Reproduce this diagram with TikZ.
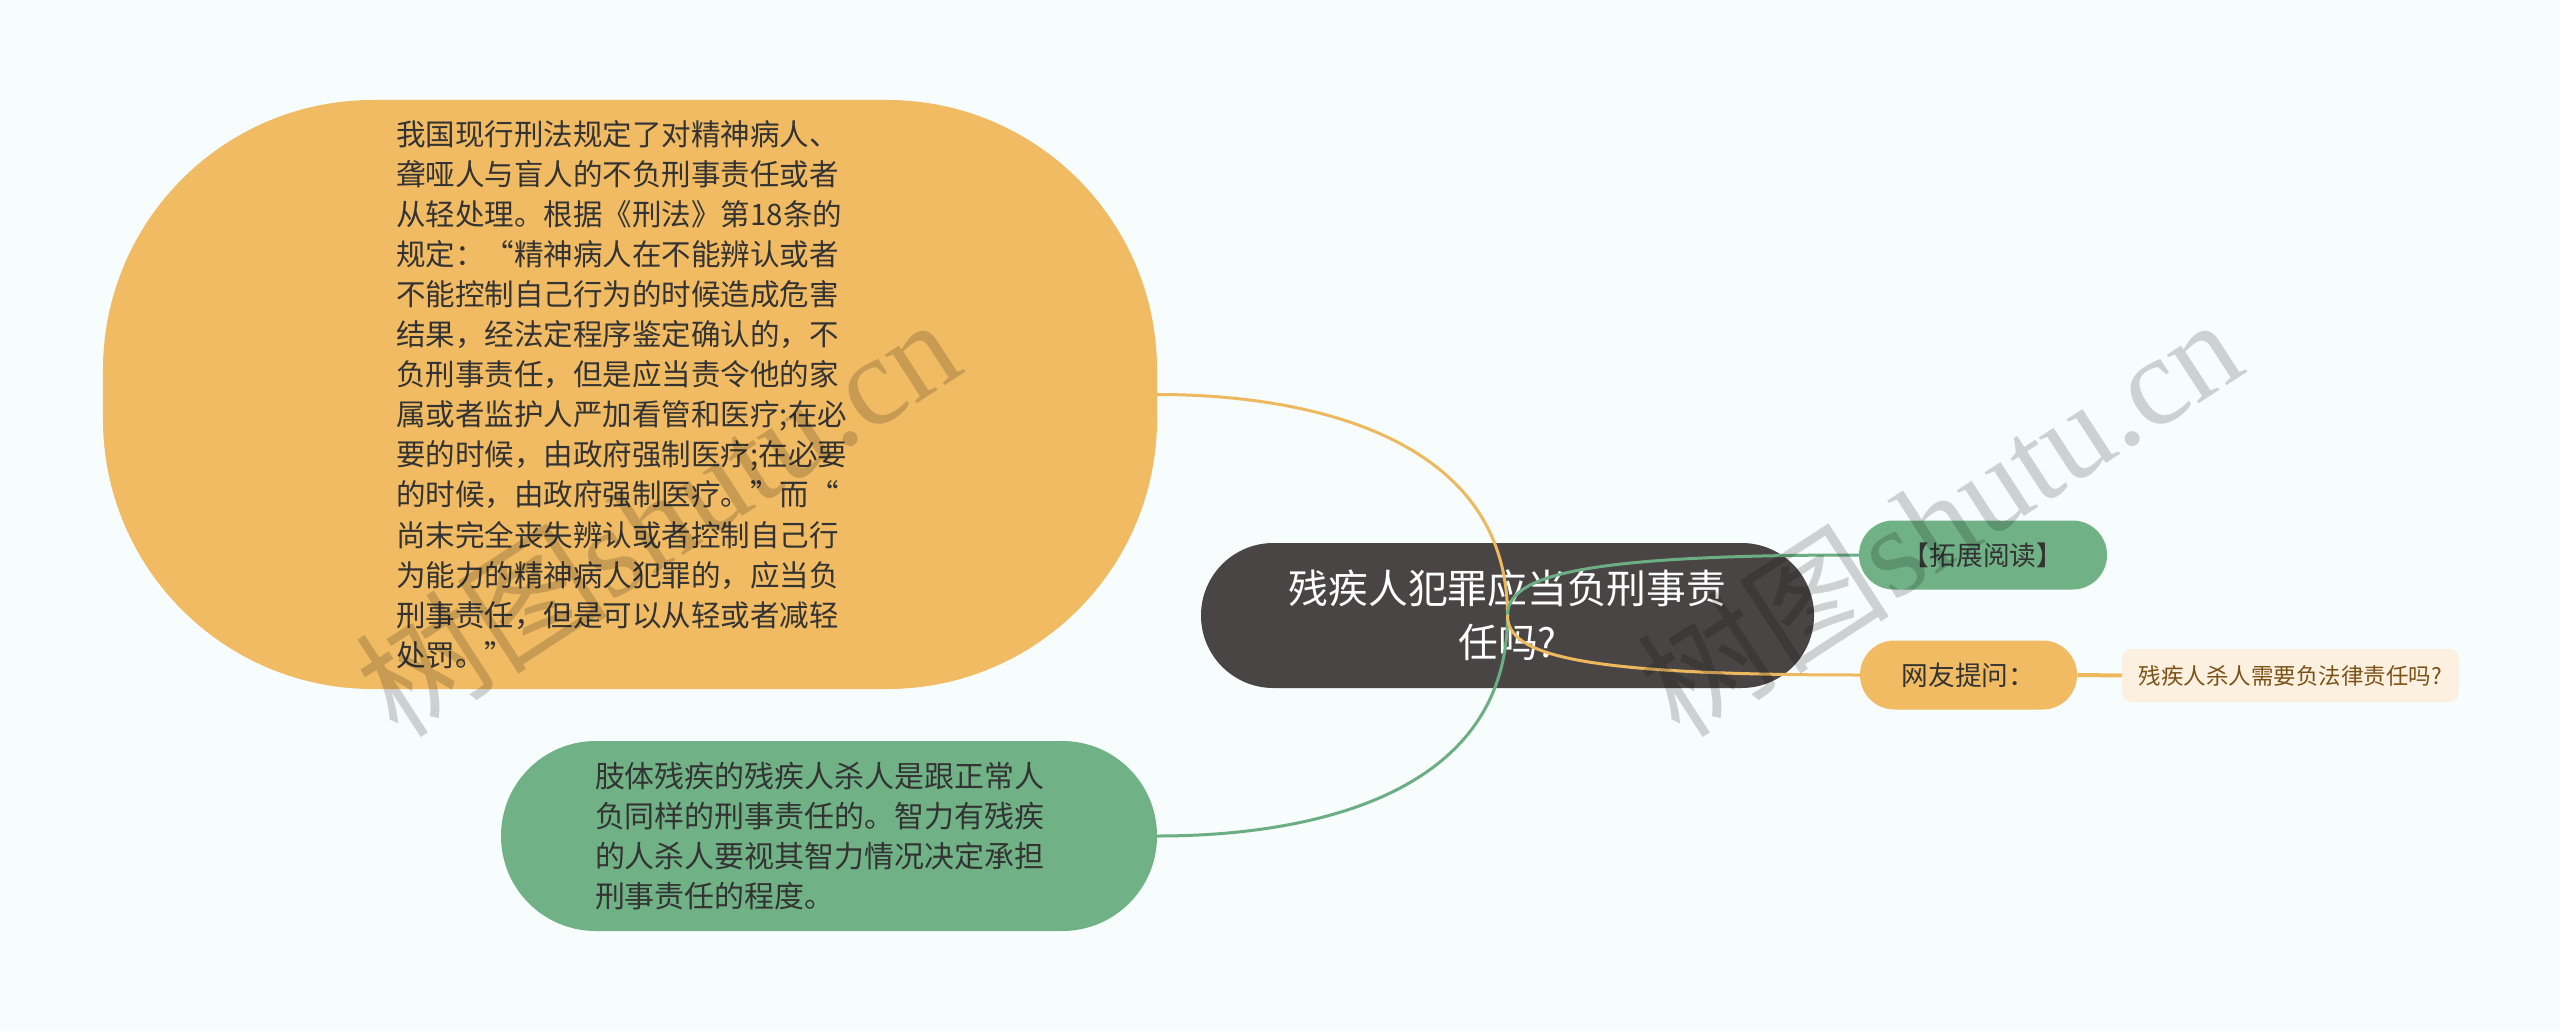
\documentclass[tikz,border=0pt]{standalone}
\usepackage{fontspec}
\newfontfamily\cjk{Noto Sans CJK SC}
\newfontfamily\wmserif{Liberation Serif}
\definecolor{bgc}{HTML}{F7FCFC}
\definecolor{myyellow}{HTML}{F0BB63}
\definecolor{mygreen}{HTML}{70B186}
\definecolor{mydark}{HTML}{4A4545}
\definecolor{mytext}{HTML}{333333}
\definecolor{lightbox}{HTML}{FCF0E0}
\definecolor{browntext}{HTML}{7A5216}
\definecolor{yline}{HTML}{EEB95E}
\definecolor{gline}{HTML}{6CAE84}
\begin{document}
\begin{tikzpicture}[x=0.25mm,y=-0.25mm,
  base/.style={draw=none, inner sep=0pt, text=mytext},
  bigyellow/.style={base, fill=myyellow, minimum width=263.5mm, minimum height=147.25mm, rounded corners=67.5mm,
     text width=117mm, align=left, font=\cjk\fontsize{21}{28.5}\selectfont},
  biggreen/.style={base, fill=mygreen, minimum width=164mm, minimum height=47.5mm, rounded corners=23.7mm,
     text width=117mm, align=left, font=\cjk\fontsize{21.3}{28.5}\selectfont},
  rootbox/.style={base, fill=mydark, text=white, minimum width=153.25mm, minimum height=36.25mm, rounded corners=18.1mm,
     align=center, font=\cjk\fontsize{28.3}{38.4}\selectfont},
  pillgreen/.style={base, fill=mygreen, minimum width=62mm, minimum height=17.25mm, rounded corners=8.6mm,
     font=\cjk\fontsize{19}{22}\selectfont},
  pillyellow/.style={base, fill=myyellow, minimum width=54.25mm, minimum height=17.25mm, rounded corners=8.6mm,
     font=\cjk\fontsize{19}{22}\selectfont},
  notebox/.style={base, fill=lightbox, text=browntext, minimum width=84.25mm, minimum height=13.25mm, rounded corners=2.5mm,
     font=\cjk\fontsize{16}{18}\selectfont},
  yedge/.style={draw=yline, line width=0.75mm, line cap=round},
  gedge/.style={draw=gline, line width=0.75mm, line cap=round},
  wm/.style={text=black, opacity=0.17, inner sep=0pt, rotate=33}
]
\useasboundingbox[fill=bgc] (0,0) rectangle (2560,1031);

\node[bigyellow] (q1) at (630,394.5) {我国现行刑法规定了对精神病人、\\聋哑人与盲人的不负刑事责任或者\\从轻处理。根据《刑法》第18条的\\规定：“精神病人在不能辨认或者\\不能控制自己行为的时候造成危害\\结果，经法定程序鉴定确认的，不\\负刑事责任，但是应当责令他的家\\属或者监护人严加看管和医疗;在必\\要的时候，由政府强制医疗;在必要\\的时候，由政府强制医疗。”而“\\尚末完全丧失辨认或者控制自己行\\为能力的精神病人犯罪的，应当负\\刑事责任，但是可以从轻或者减轻\\处罚。”};

\node[biggreen] (q2) at (829,836) {肢体残疾的残疾人杀人是跟正常人\\负同样的刑事责任的。智力有残疾\\的人杀人要视其智力情况决定承担\\刑事责任的程度。};

\node[rootbox] (root) at (1507.5,615.5) {残疾人犯罪应当负刑事责\\任吗?};

\node[pillgreen] (ext) at (1983,555) {【拓展阅读】};
\node[pillyellow] (ask) at (1968.5,675) {网友提问：};
\node[notebox] (note) at (2290.5,675.5) {残疾人杀人需要负法律责任吗?};

\draw[yedge] (root.center) .. controls +(0,-173) and +(163,0) .. (q1.east);
\draw[gedge] (root.center) .. controls +(0,175) and +(163,0) .. (q2.east);
\draw[gedge] (root.center) .. controls +(0,-40) and +(-279,0) .. (ext.west);
\draw[yedge] (root.center) .. controls +(0,40) and +(-280,0) .. (ask.west);
\draw[draw=yline, line width=1mm] (ask.east) -- (note.west);

\node[wm] (wm1) at (657,515) {\cjk\fontsize{90}{90}\selectfont 树图\wmserif shutu.cn};
\node[wm] (wm2) at (1939,515) {\cjk\fontsize{90}{90}\selectfont 树图\wmserif shutu.cn};
\end{tikzpicture}
\end{document}
